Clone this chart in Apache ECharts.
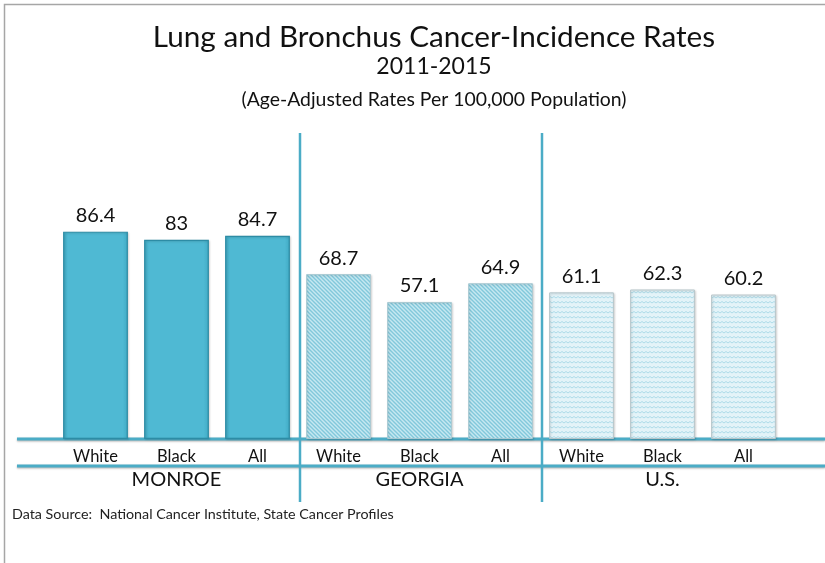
<!DOCTYPE html>
<html style="height: 100%">
<head>
  <meta charset="utf-8">
  <title>Lung and Bronchus Cancer-Incidence Rates</title>
  <script src="https://cdn.jsdelivr.net/npm/echarts@6/dist/echarts.min.js"></script>
</head>
<body style="height: 100%; margin: 0; background: #fff">
<div id="main" style="width: 825px; height: 563px;"></div>
<script type="text/javascript">
// data
var categories = ['White', 'Black', 'All', 'White', 'Black', 'All', 'White', 'Black', 'All'];
var groups = ['MONROE', 'GEORGIA', 'U.S.'];
var monroe = [86.4, 83, 84.7];
var georgia = [68.7, 57.1, 64.9];
var us = [61.1, 62.3, 60.2];

var FONT = 'Lato';
var LINE = '#4BACC6';

// hatch patterns for the georgia / us bars
function stripes() {
  var c = document.createElement('canvas');
  c.width = 4; c.height = 4;
  var g = c.getContext('2d');
  g.fillStyle = '#C6E8F1';
  g.fillRect(0, 0, 4, 4);
  g.strokeStyle = '#82C8DB';
  g.lineWidth = 1.4;
  g.beginPath();
  g.moveTo(-1, -1); g.lineTo(5, 5);
  g.moveTo(-1, 3); g.lineTo(1, 5);
  g.moveTo(3, -1); g.lineTo(5, 1);
  g.stroke();
  return c;
}
function waves() {
  var c = document.createElement('canvas');
  c.width = 8; c.height = 5;
  var g = c.getContext('2d');
  g.fillStyle = '#E3F3F8';
  g.fillRect(0, 0, 8, 5);
  g.strokeStyle = '#ADDBE8';
  g.lineWidth = 1;
  g.beginPath();
  g.moveTo(0, 3); g.lineTo(2, 1.5); g.lineTo(4, 3); g.lineTo(6, 1.5); g.lineTo(8, 3);
  g.stroke();
  return c;
}

var seriesData = [];
monroe.forEach(function (v) {
  seriesData.push({
    value: v,
    itemStyle: {
      color: new echarts.graphic.LinearGradient(0, 0, 1, 0, [
        {offset: 0, color: '#40AAC4'}, {offset: 0.08, color: '#4FB9D3'},
        {offset: 0.92, color: '#4FB9D3'}, {offset: 1, color: '#40AAC4'}
      ]),
      borderColor: '#2D8CA5', borderWidth: 1.2
    }
  });
});
georgia.forEach(function (v) {
  seriesData.push({
    value: v,
    itemStyle: {color: {image: stripes(), repeat: 'repeat'}, borderColor: '#A9C9D2', borderWidth: 1}
  });
});
us.forEach(function (v) {
  seriesData.push({
    value: v,
    itemStyle: {color: {image: waves(), repeat: 'repeat'}, borderColor: '#B8C6CA', borderWidth: 1}
  });
});

var myChart = echarts.init(document.getElementById('main'));

var option = {
  animation: false,
  backgroundColor: '#fff',
  textStyle: {fontFamily: FONT},
  title: [
    {text: 'Lung and Bronchus Cancer-Incidence Rates', left: 429, textAlign: 'center', top: 17,
      textStyle: {fontFamily: FONT, fontSize: 29.7, fontWeight: 'normal', color: '#111'}},
    {text: '2011-2015', left: 429, textAlign: 'center', top: 50,
      textStyle: {fontFamily: FONT, fontSize: 23, fontWeight: 'normal', color: '#111'}},
    {text: '(Age-Adjusted Rates Per 100,000 Population)', left: 429, textAlign: 'center', top: 85,
      textStyle: {fontFamily: FONT, fontSize: 19.4, fontWeight: 'normal', color: '#111'}}
  ],
  grid: {left: 55, right: 41, top: 199, bottom: 124},
  xAxis: [
    {
      type: 'category', data: categories,
      axisLine: {show: false}, axisTick: {show: false},
      axisLabel: {margin: 9, fontSize: 16.5, color: '#111', fontFamily: FONT}
    },
    {
      type: 'category', data: groups, position: 'bottom', offset: 31,
      axisLine: {show: false}, axisTick: {show: false},
      axisLabel: {margin: 0, fontSize: 20, color: '#111', fontFamily: FONT}
    }
  ],
  yAxis: {type: 'value', min: 0, max: 100, show: false},
  series: [{
    type: 'bar',
    data: seriesData,
    barCategoryGap: '20%',
    label: {show: true, position: 'top', distance: 6, fontSize: 20, color: '#111', fontFamily: FONT},
    itemStyle: {shadowColor: 'rgba(0,0,0,0.15)', shadowBlur: 2, shadowOffsetX: 1, shadowOffsetY: 1}
  }],
  graphic: [
    {type: 'rect', shape: {x: 4.5, y: 4.5, width: 830, height: 570}, style: {fill: 'none', stroke: '#A6A6A6', lineWidth: 1.5}},
    {type: 'line', shape: {x1: 17, y1: 439, x2: 825, y2: 439}, style: {stroke: LINE, lineWidth: 3, shadowColor: 'rgba(0,0,0,0.3)', shadowBlur: 2, shadowOffsetY: 1}},
    {type: 'line', shape: {x1: 17, y1: 466, x2: 825, y2: 466}, style: {stroke: LINE, lineWidth: 3, shadowColor: 'rgba(0,0,0,0.3)', shadowBlur: 2, shadowOffsetY: 1}},
    {type: 'line', shape: {x1: 300, y1: 133, x2: 300, y2: 502}, style: {stroke: LINE, lineWidth: 2.5}},
    {type: 'line', shape: {x1: 542, y1: 133, x2: 542, y2: 502}, style: {stroke: LINE, lineWidth: 2.5}},
    {type: 'text', left: 12, top: 507, style: {text: 'Data Source:  National Cancer Institute, State Cancer Profiles', fontFamily: FONT, fontSize: 14.3, fill: '#222'}}
  ]
};
myChart.setOption(option, true);
</script>
</body>
</html>
